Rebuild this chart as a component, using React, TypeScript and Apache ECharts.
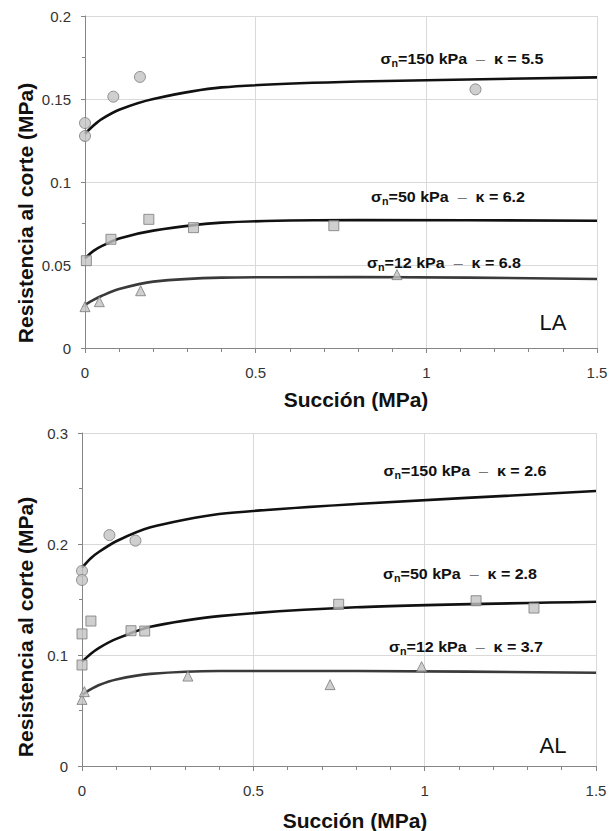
import React, { useEffect, useRef } from "react";
import * as echarts from "echarts";

// ---------- Data ----------
const curveX = [0, 0.025, 0.05, 0.1, 0.2, 0.4, 0.8, 1.5];

// Panel LA
const la150CurveY = [0.129, 0.134, 0.138, 0.1435, 0.15, 0.157, 0.1605, 0.163];
const la50CurveY = [0.054, 0.0585, 0.0615, 0.066, 0.0707, 0.0755, 0.0771, 0.0767];
const la12CurveY = [0.026, 0.029, 0.0315, 0.0355, 0.04, 0.0424, 0.0428, 0.0416];

const la150PtsX = [0, 0, 0.083, 0.161, 1.144];
const la150PtsY = [0.1355, 0.1277, 0.1514, 0.1633, 0.1558];
const la50PtsX = [0.004, 0.076, 0.187, 0.318, 0.729];
const la50PtsY = [0.0526, 0.0655, 0.0775, 0.0725, 0.0737];
const la12PtsX = [0, 0.042, 0.163, 0.914];
const la12PtsY = [0.0249, 0.0279, 0.0345, 0.0442];

// Panel AL
const al150CurveY = [0.1786, 0.187, 0.193, 0.2025, 0.215, 0.227, 0.236, 0.2477];
const al50CurveY = [0.094, 0.101, 0.1065, 0.1145, 0.1255, 0.135, 0.143, 0.148];
const al12CurveY = [0.064, 0.069, 0.073, 0.078, 0.083, 0.0856, 0.0856, 0.084];

const al150PtsX = [0, 0, 0.08, 0.156];
const al150PtsY = [0.1757, 0.1676, 0.208, 0.203];
const al50PtsX = [0, 0, 0.026, 0.143, 0.183, 0.749, 1.15, 1.319];
const al50PtsY = [0.119, 0.091, 0.1306, 0.1219, 0.1216, 0.1457, 0.1489, 0.1423];
const al12PtsX = [0, 0.007, 0.309, 0.724, 0.991];
const al12PtsY = [0.06, 0.067, 0.081, 0.0733, 0.0895];

const xTicks = [0, 0.5, 1, 1.5];
const laLabels = [
  { sigma: "150", kappa: "5.5" },
  { sigma: "50", kappa: "6.2" },
  { sigma: "12", kappa: "6.8" },
];
const alLabels = [
  { sigma: "150", kappa: "2.6" },
  { sigma: "50", kappa: "2.8" },
  { sigma: "12", kappa: "3.7" },
];
const xTitle = "Succión (MPa)";
const yTitle = "Resistencia al corte (MPa)";

// ---------- Helpers ----------
const FONT = "'Liberation Sans', Arial, sans-serif";
const zip = (xs: number[], ys: number[]) => xs.map((x, i) => [x, ys[i]]);
const fmt = (v: number) => String(+v.toFixed(3));

const xAxisCfg = (gridIndex: number) => ({
  type: "value",
  gridIndex,
  min: xTicks[0],
  max: xTicks[xTicks.length - 1],
  interval: 0.5,
  axisLine: { lineStyle: { color: "#868686", width: 1 } },
  axisTick: { show: true, length: 5, lineStyle: { color: "#868686" } },
  minorTick: { show: true, splitNumber: 5, length: 4, lineStyle: { color: "#868686" } },
  splitLine: { show: true, lineStyle: { color: "#d9d9d9", width: 1 } },
  axisLabel: { fontSize: 15, color: "#333", margin: 17, fontFamily: FONT, formatter: fmt },
});

const yAxisCfg = (gridIndex: number, max: number, interval: number) => ({
  type: "value",
  gridIndex,
  min: 0,
  max,
  interval,
  axisLine: { show: true, lineStyle: { color: "#868686", width: 1 } },
  axisTick: { show: true, length: 4, lineStyle: { color: "#868686" } },
  minorTick: { show: true, splitNumber: 2, length: 3, lineStyle: { color: "#868686" } },
  splitLine: { show: true, lineStyle: { color: "#d9d9d9", width: 1 } },
  axisLabel: { fontSize: 15, color: "#333", margin: 14, fontFamily: FONT, formatter: fmt },
});

const markerStyle = { color: "#c3c3c3", borderColor: "#7a7a7a", borderWidth: 1 };

const lineSeries = (idx: number, ys: number[], color: string) => ({
  type: "line",
  xAxisIndex: idx,
  yAxisIndex: idx,
  data: zip(curveX, ys),
  showSymbol: false,
  symbol: "none",
  smooth: 0.25,
  lineStyle: { color, width: 2.6 },
  z: 2,
});

const scatterSeries = (idx: number, xs: number[], ys: number[], symbol: string, size: number) => ({
  type: "scatter",
  xAxisIndex: idx,
  yAxisIndex: idx,
  data: zip(xs, ys),
  symbol,
  symbolSize: size,
  itemStyle: markerStyle,
  z: 3,
});

const annot = (lbl: { sigma: string; kappa: string }, x: number, y: number) => ({
  type: "text",
  x,
  y,
  scaleX: 1.07,
  style: {
    text: `{s|σ}{n|n}{b|=${lbl.sigma} kPa  }{d|–}{b|  κ = ${lbl.kappa}}`,
    align: "center",
    verticalAlign: "middle",
    fontFamily: FONT,
    rich: {
      s: { fontSize: 15, fontWeight: "bold", fill: "#111", fontFamily: FONT },
      n: { fontSize: 10, fontWeight: "bold", fill: "#111", fontFamily: FONT, padding: [9, 0, 0, 0] },
      b: { fontSize: 15, fontWeight: "bold", fill: "#111", fontFamily: FONT },
      d: { fontSize: 15, fill: "#777", fontFamily: FONT },
    },
  },
  z: 10,
});

const bigText = (text: string, x: number, y: number, size: number, weight: string, rotation = 0) => ({
  type: "text",
  x,
  y,
  rotation,
  style: {
    text,
    fontSize: size,
    fontWeight: weight,
    fontFamily: FONT,
    fill: "#111",
    align: "center",
    verticalAlign: "middle",
  },
  z: 10,
});

export default function App() {
  const ref = useRef<HTMLDivElement>(null);
  useEffect(() => {
    const chart = echarts.init(ref.current!, null, { renderer: "svg" });
    const option = {
      animation: false,
      backgroundColor: "#ffffff",
      grid: [
        { left: 85, top: 16, width: 512, height: 332 },
        { left: 82, top: 433, width: 514, height: 333 },
      ],
      xAxis: [xAxisCfg(0), xAxisCfg(1)],
      yAxis: [yAxisCfg(0, 0.2, 0.05), yAxisCfg(1, 0.3, 0.1)],
      series: [
        lineSeries(0, la150CurveY, "#111"),
        lineSeries(0, la50CurveY, "#111"),
        lineSeries(0, la12CurveY, "#3a3a3a"),
        scatterSeries(0, la150PtsX, la150PtsY, "circle", 11),
        scatterSeries(0, la50PtsX, la50PtsY, "rect", 10),
        scatterSeries(0, la12PtsX, la12PtsY, "triangle", 10),
        lineSeries(1, al150CurveY, "#111"),
        lineSeries(1, al50CurveY, "#111"),
        lineSeries(1, al12CurveY, "#3a3a3a"),
        scatterSeries(1, al150PtsX, al150PtsY, "circle", 11),
        scatterSeries(1, al50PtsX, al50PtsY, "rect", 10),
        scatterSeries(1, al12PtsX, al12PtsY, "triangle", 10),
      ],
      graphic: [
        annot(laLabels[0], 462, 59),
        annot(laLabels[1], 448, 197),
        annot(laLabels[2], 444, 263),
        bigText("LA", 553, 322, 22, "normal"),
        annot(alLabels[0], 465, 471),
        annot(alLabels[1], 460, 574),
        annot(alLabels[2], 466, 647),
        bigText("AL", 553, 745, 22, "normal"),
        bigText(xTitle, 356, 399, 21, "bold"),
        bigText(xTitle, 355, 820, 21, "bold"),
        bigText(yTitle, 25, 213, 21, "bold", Math.PI / 2),
        bigText(yTitle, 25, 627, 21, "bold", Math.PI / 2),
      ],
    };
    chart.setOption(option as any);
    return () => chart.dispose();
  }, []);
  return (
    <div
      ref={ref}
      style={{ position: "absolute", left: 0, top: 0, width: 612, height: 831, background: "#fff" }}
    />
  );
}
